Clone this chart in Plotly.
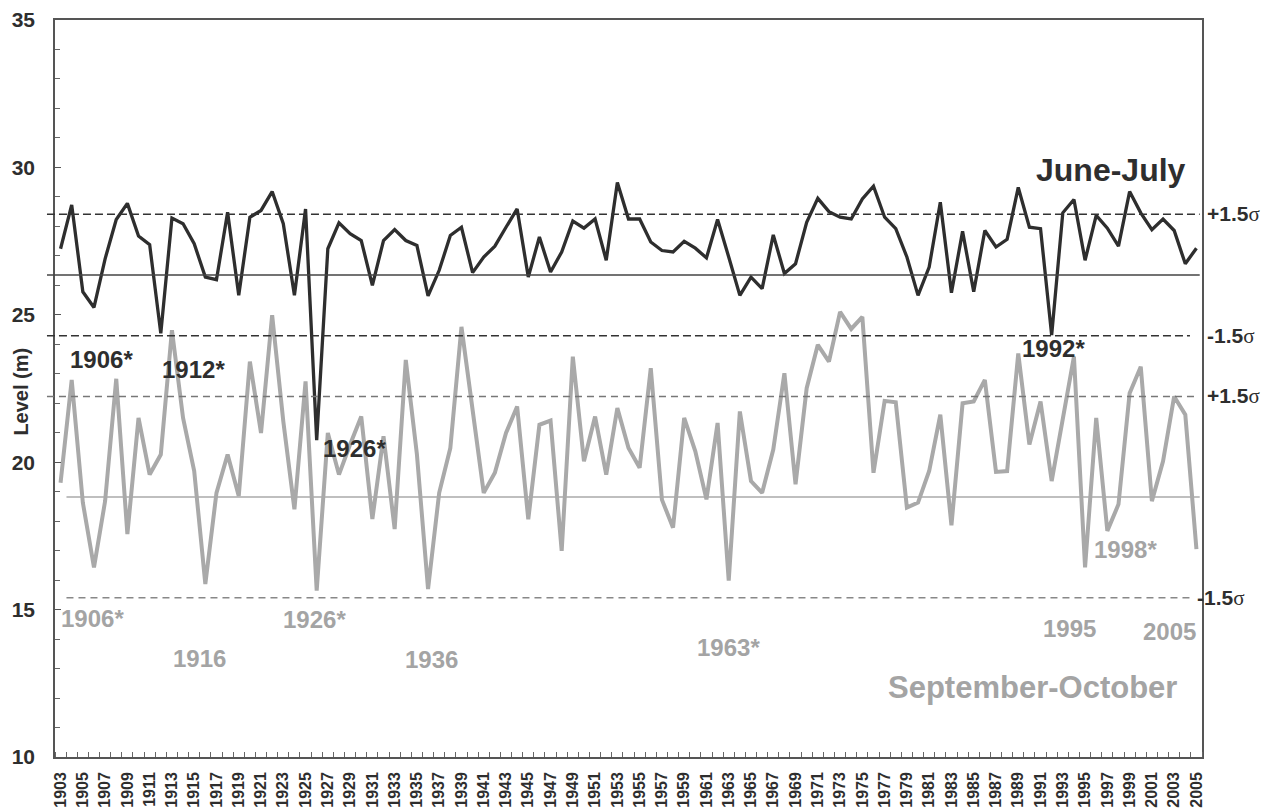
import plotly.graph_objects as go

years = list(range(1903, 2006))

june_july = [
    27.24, 28.73, 25.78, 25.25, 26.90, 28.23, 28.78, 27.67, 27.38, 24.37,
    28.28, 28.09, 27.41, 26.28, 26.19, 28.48, 25.66, 28.31, 28.54, 29.18,
    28.09, 25.66, 28.59, 20.75, 27.24, 28.12, 27.75, 27.52, 26.00, 27.52,
    27.89, 27.52, 27.35, 25.64, 26.51, 27.69, 27.97, 26.43, 26.96, 27.33,
    27.97, 28.59, 26.28, 27.64, 26.45, 27.13, 28.18, 27.94, 28.25, 26.85,
    29.49, 28.25, 28.25, 27.47, 27.18, 27.13, 27.49, 27.26, 26.93, 28.23,
    26.96, 25.66, 26.28, 25.89, 27.71, 26.40, 26.73, 28.14, 28.95, 28.50,
    28.31, 28.25, 28.93, 29.36, 28.31, 27.92, 26.96, 25.66, 26.62, 28.82,
    25.75, 27.83, 25.78, 27.86, 27.30, 27.56, 29.32, 27.97, 27.92, 24.31,
    28.46, 28.91, 26.85, 28.37, 27.94, 27.33, 29.18, 28.46, 27.89, 28.25,
    27.86, 26.73, 27.26,
]

sep_oct = [
    19.30, 22.79, 18.63, 16.43, 18.68, 22.83, 17.56, 21.50, 19.58, 20.26,
    24.48, 21.50, 19.70, 15.87, 18.96, 20.26, 18.85, 23.41, 20.99, 24.99,
    21.39, 18.40, 22.74, 15.64, 20.99, 19.58, 20.60, 21.55, 18.07, 20.88,
    17.73, 23.47, 20.26, 15.70, 18.96, 20.48, 24.59, 21.72, 18.96, 19.64,
    20.99, 21.89, 18.06, 21.27, 21.41, 16.99, 23.58, 20.03, 21.55, 19.58,
    21.84, 20.48, 19.81, 23.19, 18.73, 17.78, 21.50, 20.37, 18.74, 21.33,
    15.98, 21.72, 19.36, 18.96, 20.43, 23.02, 19.25, 22.51, 23.98, 23.41,
    25.10, 24.52, 24.93, 19.64, 22.08, 22.03, 18.46, 18.63, 19.70, 21.61,
    17.86, 22.00, 22.06, 22.79, 19.67, 19.70, 23.69, 20.60, 22.06, 19.36,
    21.50, 23.58, 16.43, 21.50, 17.67, 18.57, 22.34, 23.24, 18.68, 20.03,
    22.23, 21.61, 17.05,
]

# mean and +-1.5 sigma levels: [-1.5s, mean, +1.5s]
jj_levels = [24.29, 26.35, 28.41]
so_levels = [15.40, 18.82, 22.23]

year_ticks = list(range(1903, 2006, 2))

# labels of the extreme years
jj_notes = [("1906*", 1906.7, 23.5), ("1912*", 1914.9, 23.15),
            ("1926*", 1929.4, 20.45), ("1992*", 1992.2, 23.85)]
so_notes = [("1906*", 1905.9, 14.7), ("1916", 1915.5, 13.35),
            ("1926*", 1925.8, 14.65), ("1936", 1936.3, 13.3),
            ("1963*", 1963.0, 13.7), ("1995", 1993.6, 14.35),
            ("2005", 2002.6, 14.25), ("1998*", 1998.6, 17.05)]

DARK = "#2e2e2e"
GREY = "#a9a9a9"
FONT = "Liberation Sans, Arial, sans-serif"

fig = go.Figure()
fig.add_trace(go.Scatter(x=years, y=sep_oct, mode="lines",
                         line=dict(color=GREY, width=4), name="September-October"))
fig.add_trace(go.Scatter(x=years, y=june_july, mode="lines",
                         line=dict(color=DARK, width=3.3), name="June-July"))

shapes = []
# June-July lines
shapes.append(dict(type="line", xref="paper", yref="y", x0=-0.007, x1=0.9895,
                   y0=jj_levels[0], y1=jj_levels[0], line=dict(color="#333", width=1.5, dash="8px,4px")))
shapes.append(dict(type="line", xref="paper", yref="y", x0=-0.007, x1=0.998,
                   y0=jj_levels[1], y1=jj_levels[1], line=dict(color="#444", width=1.5)))
shapes.append(dict(type="line", xref="paper", yref="y", x0=-0.007, x1=0.998,
                   y0=jj_levels[2], y1=jj_levels[2], line=dict(color="#333", width=1.5, dash="8px,4px")))
# September-October lines
shapes.append(dict(type="line", xref="paper", yref="y", x0=0.01, x1=0.9913,
                   y0=so_levels[0], y1=so_levels[0], line=dict(color="#888", width=1.5, dash="7px,5px")))
shapes.append(dict(type="line", xref="paper", yref="y", x0=0.01, x1=0.998,
                   y0=so_levels[1], y1=so_levels[1], line=dict(color="#aaa", width=1.5)))
shapes.append(dict(type="line", xref="paper", yref="y", x0=-0.007, x1=0.994,
                   y0=so_levels[2], y1=so_levels[2], line=dict(color="#777", width=1.5, dash="7px,5px")))

sig = "<span style='font-family:Liberation Serif;font-weight:normal'>σ</span>"
ann = []
for lvl, txt, xx in [(jj_levels[2], "+1.5", 1.0026), (jj_levels[0], "-1.5", 1.0026),
                     (so_levels[2], "+1.5", 1.0026), (so_levels[0], "-1.5", 0.9939)]:
    ann.append(dict(x=xx, y=lvl, xref="paper", yref="y", text=txt + sig, showarrow=False,
                    xanchor="left", yanchor="middle",
                    font=dict(family=FONT, size=21, color="#2e2e2e", weight="bold")))
for txt, xx, yy in jj_notes:
    ann.append(dict(x=xx, y=yy, text=txt, showarrow=False,
                    font=dict(family=FONT, size=24, color="#2e2e2e", weight="bold")))
for txt, xx, yy in so_notes:
    ann.append(dict(x=xx, y=yy, text=txt, showarrow=False,
                    font=dict(family=FONT, size=24, color="#a4a4a4", weight="bold")))
ann.append(dict(x=1997.3, y=29.9, text="June-July", showarrow=False,
                font=dict(family=FONT, size=32, color="#2e2e2e", weight="bold")))
ann.append(dict(x=1990.3, y=12.36, text="September-October", showarrow=False,
                font=dict(family=FONT, size=31, color="#a4a4a4", weight="bold")))
ann.append(dict(x=-0.0295, y=22.4, xref="paper", yref="y", text="Level (m)", textangle=-90,
                xanchor="center", yanchor="middle", showarrow=False,
                font=dict(family=FONT, size=20, color="#2e2e2e", weight="bold")))

# the page body adds an 8px offset, so the figure is a bit smaller than the window
fig.update_layout(
    width=1261, height=804,
    margin=dict(l=47, r=67, t=12, b=55, autoexpand=False),
    paper_bgcolor="white", plot_bgcolor="white",
    showlegend=False,
    shapes=shapes, annotations=ann,
    font=dict(family=FONT, color="#2e2e2e"),
)
fig.update_xaxes(
    range=[1902.5, 2005.5], tickvals=year_ticks, ticktext=[str(y) for y in year_ticks],
    tickangle=-90, ticks="", showgrid=False, zeroline=False, automargin=False,
    showline=True, linecolor="#555", linewidth=1.5, mirror=True,
    tickfont=dict(family=FONT, size=16, color="#2e2e2e", weight="bold"),
    ticklabelstandoff=7,
    minor=dict(tick0=1902.5, dtick=1, ticks="inside", ticklen=5, tickcolor="#666", showgrid=False),
)
fig.update_yaxes(
    range=[10, 35], dtick=5, ticks="inside", ticklen=6, tickcolor="#555",
    showgrid=False, zeroline=False, automargin=False,
    showline=True, linecolor="#555", linewidth=1.5, mirror=True,
    tickfont=dict(family=FONT, size=21, color="#2e2e2e", weight="bold"),
    ticklabelstandoff=14, ticklabeloverflow="allow",
    minor=dict(dtick=1, ticks="inside", ticklen=5, tickcolor="#666", showgrid=False),
)

fig.write_html("out.html")
